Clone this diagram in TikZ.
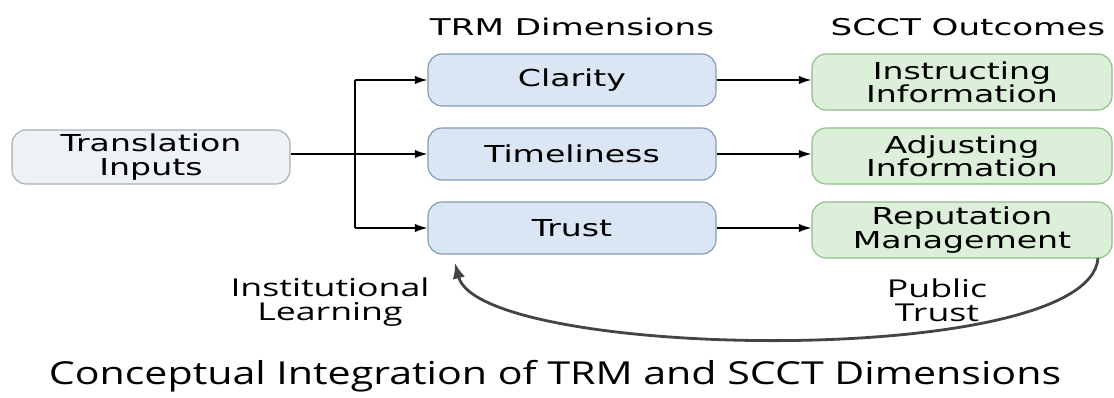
\documentclass[tikz,border=0pt]{standalone}
\usepackage{fontspec}
\setmainfont{DejaVu Sans}
\newfontfamily\boxfont[FakeStretch=1.42]{DejaVu Sans}
\newfontfamily\headfont[FakeStretch=1.48]{DejaVu Sans}
\newfontfamily\labelfont[FakeStretch=1.45]{Open Sans}
\newfontfamily\titlefont[FakeStretch=1.3]{Open Sans}
\usetikzlibrary{arrows.meta}

\definecolor{grayfill}{HTML}{EEF1F5}
\definecolor{grayline}{HTML}{A7AEB6}
\definecolor{bluefill}{HTML}{DAE6F3}
\definecolor{blueline}{HTML}{7F9AB5}
\definecolor{greenfill}{HTML}{DCEFD9}
\definecolor{greenline}{HTML}{8DBE86}
\definecolor{loopline}{HTML}{444444}

\begin{document}
\begin{tikzpicture}[x=0.025cm, y=-0.025cm,
    box/.style={draw, rounded corners=10pt, line width=0.8pt, align=center,
      font=\boxfont\fontsize{16.6}{16.6}\selectfont, inner sep=0pt},
    inbox/.style={box, fill=grayfill, draw=grayline, minimum width=278*0.025cm, minimum height=54*0.025cm},
    dimbox/.style={box, fill=bluefill, draw=blueline, minimum width=288*0.025cm, minimum height=52*0.025cm},
    outbox/.style={box, fill=greenfill, draw=greenline, minimum width=300*0.025cm, minimum height=56*0.025cm},
    arr/.style={-{Latex[length=9pt,width=6pt]}, line width=1pt},
    head/.style={font=\headfont\fontsize{16.4}{17}\selectfont},
    side/.style={font=\labelfont\fontsize{17.5}{17}\selectfont, align=center}]
  \useasboundingbox (0,0) rectangle (1114,398);

  % headers
  \node[head] (hdim) at (572,27) {TRM Dimensions};
  \node[head] (hout) at (968,27) {SCCT Outcomes};

  % boxes
  \node[inbox] (trans) at (151,157) {Translation\\Inputs};
  \node[dimbox] (clar) at (572,80) {Clarity};
  \node[dimbox] (time) at (572,154) {Timeliness};
  \node[dimbox] (trust) at (572,228) {Trust};
  \node[outbox] (instr) at (962,82) {Instructing\\Information};
  \node[outbox] (adj) at (962,156) {Adjusting\\Information};
  \node[outbox] (rep) at (962,230) {Reputation\\Management};

  % split
  \coordinate (jtop) at (355,80);
  \coordinate (jbot) at (355,228);
  \draw[line width=1pt] (jtop) -- (jbot);
  \draw[arr] (jtop) -- (clar.west);
  \draw[arr] (jbot) -- (trust.west);
  \draw[arr] (trans.east |- time.west) -- (time.west);

  \draw[arr] (clar) -- (clar -| instr.west);
  \draw[arr] (time) -- (time -| adj.west);
  \draw[arr] (trust) -- (trust -| rep.west);

  % feedback loop
  \coordinate (lstart) at (1098,258);
  \coordinate (lend) at (455,263);
  \draw[-{Latex[length=11pt,width=9pt]}, line width=2pt, loopline]
    (lstart) .. controls (1090,370) and (480,360) .. (lend);
  \node[side] (learn) at (330,302) {Institutional\\Learning};
  \node[side] (ptrust) at (937,300) {Public\\Trust};

  \node[font=\titlefont\fontsize{22.5}{22}\selectfont] (title) at (555,376)
    {Conceptual Integration of TRM and SCCT Dimensions};
\end{tikzpicture}
\end{document}
